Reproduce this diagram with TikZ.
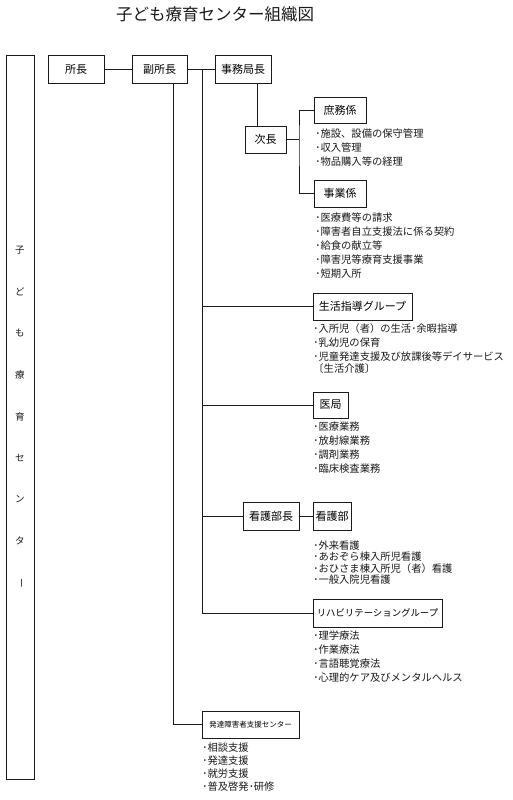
\documentclass[tikz,border=0pt]{standalone}
\usepackage{fontspec}
\usepackage{tikz}
\usetikzlibrary{positioning,calc}
\newfontfamily\jpfont{Noto Sans CJK JP}
\definecolor{ink}{HTML}{1A1A1A}
\tikzset{
  every picture/.style={line width=0.8pt,draw=ink},
  bx/.style={draw=ink,fill=white,inner sep=0pt,minimum height=27pt,font=\jpfont\fontsize{11}{13}\selectfont},
  item/.style={anchor=base west,inner sep=0pt,text=ink,font=\jpfont\fontsize{10.3}{12}\selectfont},
  vch/.style={inner sep=0pt,text=ink,font=\jpfont\fontsize{9.5}{11}\selectfont},
  ln/.style={draw=ink},
}
\begin{document}
\begin{tikzpicture}[x=1pt,y=-1pt]
  \useasboundingbox[fill=white] (0,0) rectangle (512,800);
  % title
  \node[font=\jpfont\fontsize{16.5}{18}\selectfont,text=ink] (title) at (215,14) {子ども療育センター組織図};
  % left band
  \node[bx,minimum width=28pt,minimum height=724pt] (center) at (20,417) {};
  \foreach \c [count=\i] in {子,ど,も,療,育,セ,ン,タ}
    \node[vch] (vc\i) at (20,{250+(\i-1)*41.6}) {\c};
  \node[vch,rotate=-90] (vc9) at (20,583) {ー};
  % top row
  \node[bx,minimum width=56pt,minimum height=28pt] (shocho) at (76,69)    {所長};
  \node[bx,minimum width=55pt,minimum height=28pt] (fuku)   at (159.5,69) {副所長};
  \node[bx,minimum width=56pt,minimum height=28pt] (jimu)   at (243,69)   {事務局長};
  % office branch
  \node[bx,minimum width=41pt] (jicho) at (265.5,139.5) {次長};
  \node[bx,minimum width=52pt,minimum height=26pt] (shomu) at (340,110)   {庶務係};
  \node[bx,minimum width=52pt] (jigyo) at (340,193.5) {事業係};
  % trunk branches
  \node[bx,minimum width=99pt] (seikatsu) at (362.5,306.5) {生活指導グループ};
  \node[bx,minimum width=35pt,minimum height=26pt] (ikyoku) at (330.5,405) {医局};
  \node[bx,minimum width=56pt,minimum height=28pt] (kangocho) at (271,516) {看護部長};
  \node[bx,minimum width=38pt,minimum height=28pt] (kangobu)  at (332,516) {看護部};
  \node[bx,minimum width=129pt,minimum height=28pt,font=\jpfont\fontsize{9.4}{11}\selectfont] (riha) at (377.5,613) {リハビリテーショングループ};
  \node[bx,minimum width=97pt,font=\jpfont\fontsize{7.5}{9}\selectfont] (hattatsu) at (250.5,724.5) {発達障害者支援センター};
  % duty lists
  \foreach \t [count=\i] in {施設、設備の保守管理,収入管理,物品購入等の経理}
    \node[item] (shomu-\i) at (315,{137+(\i-1)*14.3}) {･\t};
  \foreach \t [count=\i] in {医療費等の請求,障害者自立支援法に係る契約,給食の献立等,障害児等療育支援事業,短期入所}
    \node[item] (jigyo-\i) at (315,{221+(\i-1)*14}) {･\t};
  \foreach \t [count=\i] in {入所児（者）の生活･余暇指導,乳幼児の保育,児童発達支援及び放課後等デイサービス}
    \node[item] (seikatsu-\i) at (313,{332+(\i-1)*14}) {･\t};
  \node[item] (seikatsu-4) at (313,372) {〔生活介護〕};
  \foreach \t [count=\i] in {医療業務,放射線業務,調剤業務,臨床検査業務}
    \node[item] (ikyoku-\i) at (313,{430+(\i-1)*14}) {･\t};
  \foreach \t [count=\i] in {外来看護,あおぞら棟入所児看護,おひさま棟入所児（者）看護,一般入院児看護}
    \node[item] (kangobu-\i) at (313,{549+(\i-1)*11.5}) {･\t};
  \foreach \t [count=\i] in {理学療法,作業療法,言語聴覚療法,心理的ケア及びメンタルヘルス}
    \node[item] (riha-\i) at (313,{639+(\i-1)*14}) {･\t};
  \foreach \t [count=\i] in {相談支援,発達支援,就労支援,普及啓発･研修}
    \node[item] (hattatsu-\i) at (202,{751+(\i-1)*13.3}) {･\t};
  % connectors
  \coordinate (trunk) at (202,69);
  \coordinate (fork) at (299,139.5);
  \draw[ln] (shocho) -- (fuku);
  \draw[ln] (fuku) -- (jimu);
  \draw[ln] (trunk) |- (riha.west);
  \foreach \n in {seikatsu,ikyoku,kangocho}
    \draw[ln] (trunk |- \n.west) -- (\n.west);
  \draw[ln] (kangocho) -- (kangobu);
  \draw[ln] ([xshift=-8.5pt]jicho.north) -- ([xshift=-8.5pt]jicho.north |- jimu.south);
  \draw[ln] (jicho.east) -- (fork);
  \draw[ln] (shomu.west) -| (fork) |- (jigyo.west);
  \draw[ln] ([xshift=13.5pt]fuku.south) |- (hattatsu.west);
\end{tikzpicture}
\end{document}
